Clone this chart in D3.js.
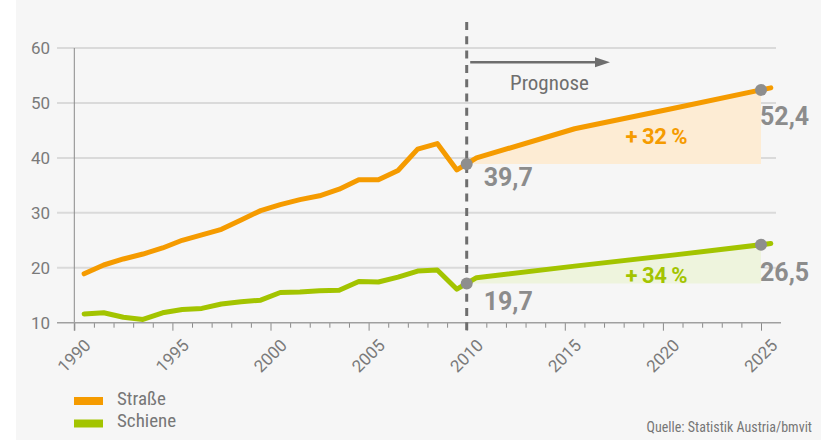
<!DOCTYPE html>
<html>
<head>
<meta charset="utf-8">
<script src="https://cdn.jsdelivr.net/npm/d3@7"></script>
<style>
  body { margin: 0; background: #fff; }
  svg { display: block; }
  .narrow { font-family: "Liberation Sans Narrow", "Roboto Condensed", "Arial Narrow", Roboto, sans-serif; }
  .num { font-family: Roboto, "Liberation Sans", sans-serif; }
</style>
</head>
<body>
<div id="chart"></div>
<script>
var years = [1990, 1991, 1992, 1993, 1994, 1995, 1996, 1997, 1998, 1999,
             2000, 2001, 2002, 2003, 2004, 2005, 2006, 2007, 2008, 2009];
var strasse = [18.9, 20.5, 21.6, 22.5, 23.6, 25.0, 26.0, 27.0, 28.7, 30.4,
               31.5, 32.4, 33.1, 34.3, 36.0, 36.0, 37.7, 41.6, 42.6, 37.8];
var schiene = [11.6, 11.8, 11.0, 10.6, 11.8, 12.4, 12.6, 13.4, 13.8, 14.1,
               15.5, 15.6, 15.8, 15.9, 17.5, 17.4, 18.3, 19.4, 19.6, 16.1];

var forecastYears = [2010, 2015, 2020, 2025];
var strasseForecast = [40.0, 45.3, 49.0, 52.75];
var schieneForecast = [18.2, 20.3, 22.3, 24.4];

var yTicks = [10, 20, 30, 40, 50, 60];
var xTicks = [1990, 1995, 2000, 2005, 2010, 2015, 2020, 2025];
var markYears = [2010, 2025];

var seriesNames = ["Straße", "Schiene"];
var seriesColors = ["#f59b00", "#a3c400"];
var fillColors = ["#fdecd4", "#eef4dd"];
var startLabels = ["39,7", "19,7"];
var endLabels = ["52,4", "26,5"];
var changeLabels = ["+ 32 %", "+ 34 %"];

var width = 821, height = 440;

var svg = d3.select("#chart").append("svg")
    .attr("width", width)
    .attr("height", height);

svg.append("rect")
    .attr("x", 16).attr("y", 0)
    .attr("width", width - 16).attr("height", height)
    .attr("fill", "#f6f6f6");

var x = d3.scaleLinear().domain([1990, 2025]).range([74.3, 761]);
var y = d3.scaleLinear().domain([10, 60]).range([322.7, 48]);

// grid
svg.selectAll("line.grid")
    .data(yTicks.filter(d => d > 10))
    .enter().append("line")
    .attr("class", "grid")
    .attr("x1", 57).attr("x2", 776)
    .attr("y1", d => y(d)).attr("y2", d => y(d))
    .attr("stroke", "#dadada")
    .attr("stroke-width", 2);

svg.selectAll("text.ylab")
    .data(yTicks)
    .enter().append("text")
    .attr("class", "ylab num")
    .attr("x", 50)
    .attr("y", d => y(d))
    .attr("dy", "0.36em")
    .attr("text-anchor", "end")
    .attr("font-size", 17)
    .attr("fill", "#7a7a7a")
    .text(d => d);

// axes
svg.append("line")
    .attr("x1", x(1990)).attr("x2", x(1990))
    .attr("y1", y(60)).attr("y2", y(10) + 8)
    .attr("stroke", "#8a8a8a").attr("stroke-width", 1);

var xAxis = d3.axisBottom(x)
    .tickValues(d3.range(1990, 2026))
    .tickSize(5)
    .tickFormat("");

var gx = svg.append("g")
    .attr("transform", `translate(0, ${y(10)})`)
    .call(xAxis);
gx.select(".domain").remove();
gx.selectAll(".tick line")
    .attr("stroke", "#8a8a8a")
    .attr("y2", d => d % 5 === 0 ? 8 : 5);

svg.append("line")
    .attr("x1", 57).attr("x2", 781)
    .attr("y1", y(10)).attr("y2", y(10))
    .attr("stroke", "#a0a0a0").attr("stroke-width", 1.5);

svg.selectAll("text.xlab")
    .data(xTicks)
    .enter().append("text")
    .attr("class", "xlab num")
    .attr("transform", d => `translate(${x(d) + 4}, 360) rotate(-45)`)
    .attr("text-anchor", "middle")
    .attr("font-size", 17)
    .attr("fill", "#7a7a7a")
    .text(d => d);

// series
var allSeries = [
    years.map((yr, i) => ({ t: yr + 0.5, v: strasse[i] }))
        .concat(forecastYears.map((yr, i) => ({ t: yr + 0.5, v: strasseForecast[i] }))),
    years.map((yr, i) => ({ t: yr + 0.5, v: schiene[i] }))
        .concat(forecastYears.map((yr, i) => ({ t: yr + 0.5, v: schieneForecast[i] })))
];

function valueAt(pts, t) {
    for (var i = 0; i < pts.length - 1; i++) {
        if (pts[i].t <= t && pts[i + 1].t >= t) {
            var k = (t - pts[i].t) / (pts[i + 1].t - pts[i].t);
            return pts[i].v + k * (pts[i + 1].v - pts[i].v);
        }
    }
    return pts[pts.length - 1].v;
}

var line = d3.line().x(d => x(d.t)).y(d => y(d.v));

allSeries.forEach(function (pts, s) {
    var base = valueAt(pts, markYears[0]);
    var areaPts = [{ t: markYears[0], v: base }]
        .concat(pts.filter(d => d.t > markYears[0] && d.t < markYears[1]))
        .concat([{ t: markYears[1], v: valueAt(pts, markYears[1]) }]);

    svg.append("path")
        .datum(areaPts)
        .attr("d", d3.area().x(d => x(d.t)).y0(y(base)).y1(d => y(d.v)))
        .attr("fill", fillColors[s]);
});

allSeries.forEach(function (pts, s) {
    svg.append("path")
        .datum(pts)
        .attr("d", line)
        .attr("fill", "none")
        .attr("stroke", seriesColors[s])
        .attr("stroke-width", 5)
        .attr("stroke-linejoin", "round")
        .attr("stroke-linecap", "round");
});

// prognose divider
svg.append("line")
    .attr("x1", x(2010)).attr("x2", x(2010))
    .attr("y1", 22).attr("y2", 332)
    .attr("stroke", "#6e6e6e")
    .attr("stroke-width", 3)
    .attr("stroke-dasharray", "8,6.3");

svg.append("line")
    .attr("x1", x(2010) + 3.5).attr("x2", 598)
    .attr("y1", 62.3).attr("y2", 62.3)
    .attr("stroke", "#6e6e6e").attr("stroke-width", 2.5);
svg.append("path")
    .attr("d", "M595,57.3 L610,62.3 L595,67.3 Z")
    .attr("fill", "#6e6e6e");

svg.append("text")
    .attr("class", "narrow")
    .attr("x", 510).attr("y", 90)
    .attr("font-size", 21)
    .attr("fill", "#6e6e6e")
    .text("Prognose");

// markers and labels
var startOffsets = [[17, 22], [17, 27]];
var endOffsets = [[-1, 35], [-1, 36]];
var changeY = [42.6, 17.3];

allSeries.forEach(function (pts, s) {
    var v0 = valueAt(pts, markYears[0]);
    var v1 = valueAt(pts, markYears[1]);

    svg.selectAll("circle.m" + s)
        .data([[markYears[0], v0], [markYears[1], v1]])
        .enter().append("circle")
        .attr("class", "m" + s)
        .attr("cx", d => x(d[0]))
        .attr("cy", d => y(d[1]))
        .attr("r", 6)
        .attr("fill", "#8e8e8e");

    svg.append("text")
        .attr("class", "num")
        .attr("x", x(markYears[0]) + startOffsets[s][0])
        .attr("y", y(v0) + startOffsets[s][1])
        .attr("font-size", 25).attr("font-weight", 700)
        .attr("fill", "#8c8c8c")
        .text(startLabels[s]);

    svg.append("text")
        .attr("class", "num")
        .attr("x", x(markYears[1]) + endOffsets[s][0])
        .attr("y", y(v1) + endOffsets[s][1])
        .attr("font-size", 25).attr("font-weight", 700)
        .attr("fill", "#8c8c8c")
        .text(endLabels[s]);

    svg.append("text")
        .attr("class", "num")
        .attr("x", x(2018.1))
        .attr("y", y(changeY[s]))
        .attr("font-size", 22).attr("font-weight", 700)
        .attr("letter-spacing", -0.5)
        .attr("fill", seriesColors[s])
        .text(changeLabels[s]);
});

// legend
var legend = svg.selectAll("g.legend")
    .data(seriesNames)
    .enter().append("g")
    .attr("class", "legend")
    .attr("transform", (d, i) => `translate(74, ${397 + i * 22.5})`);

legend.append("rect")
    .attr("width", 29).attr("height", 8)
    .attr("fill", (d, i) => seriesColors[i]);

legend.append("text")
    .attr("class", "narrow")
    .attr("x", 43).attr("y", 7.5)
    .attr("font-size", 19)
    .attr("fill", "#777")
    .text(d => d);

svg.append("text")
    .attr("class", "narrow")
    .attr("x", 812).attr("y", 431.5)
    .attr("text-anchor", "end")
    .attr("font-size", 14)
    .attr("fill", "#777")
    .text("Quelle: Statistik Austria/bmvit");
</script>
</body>
</html>
